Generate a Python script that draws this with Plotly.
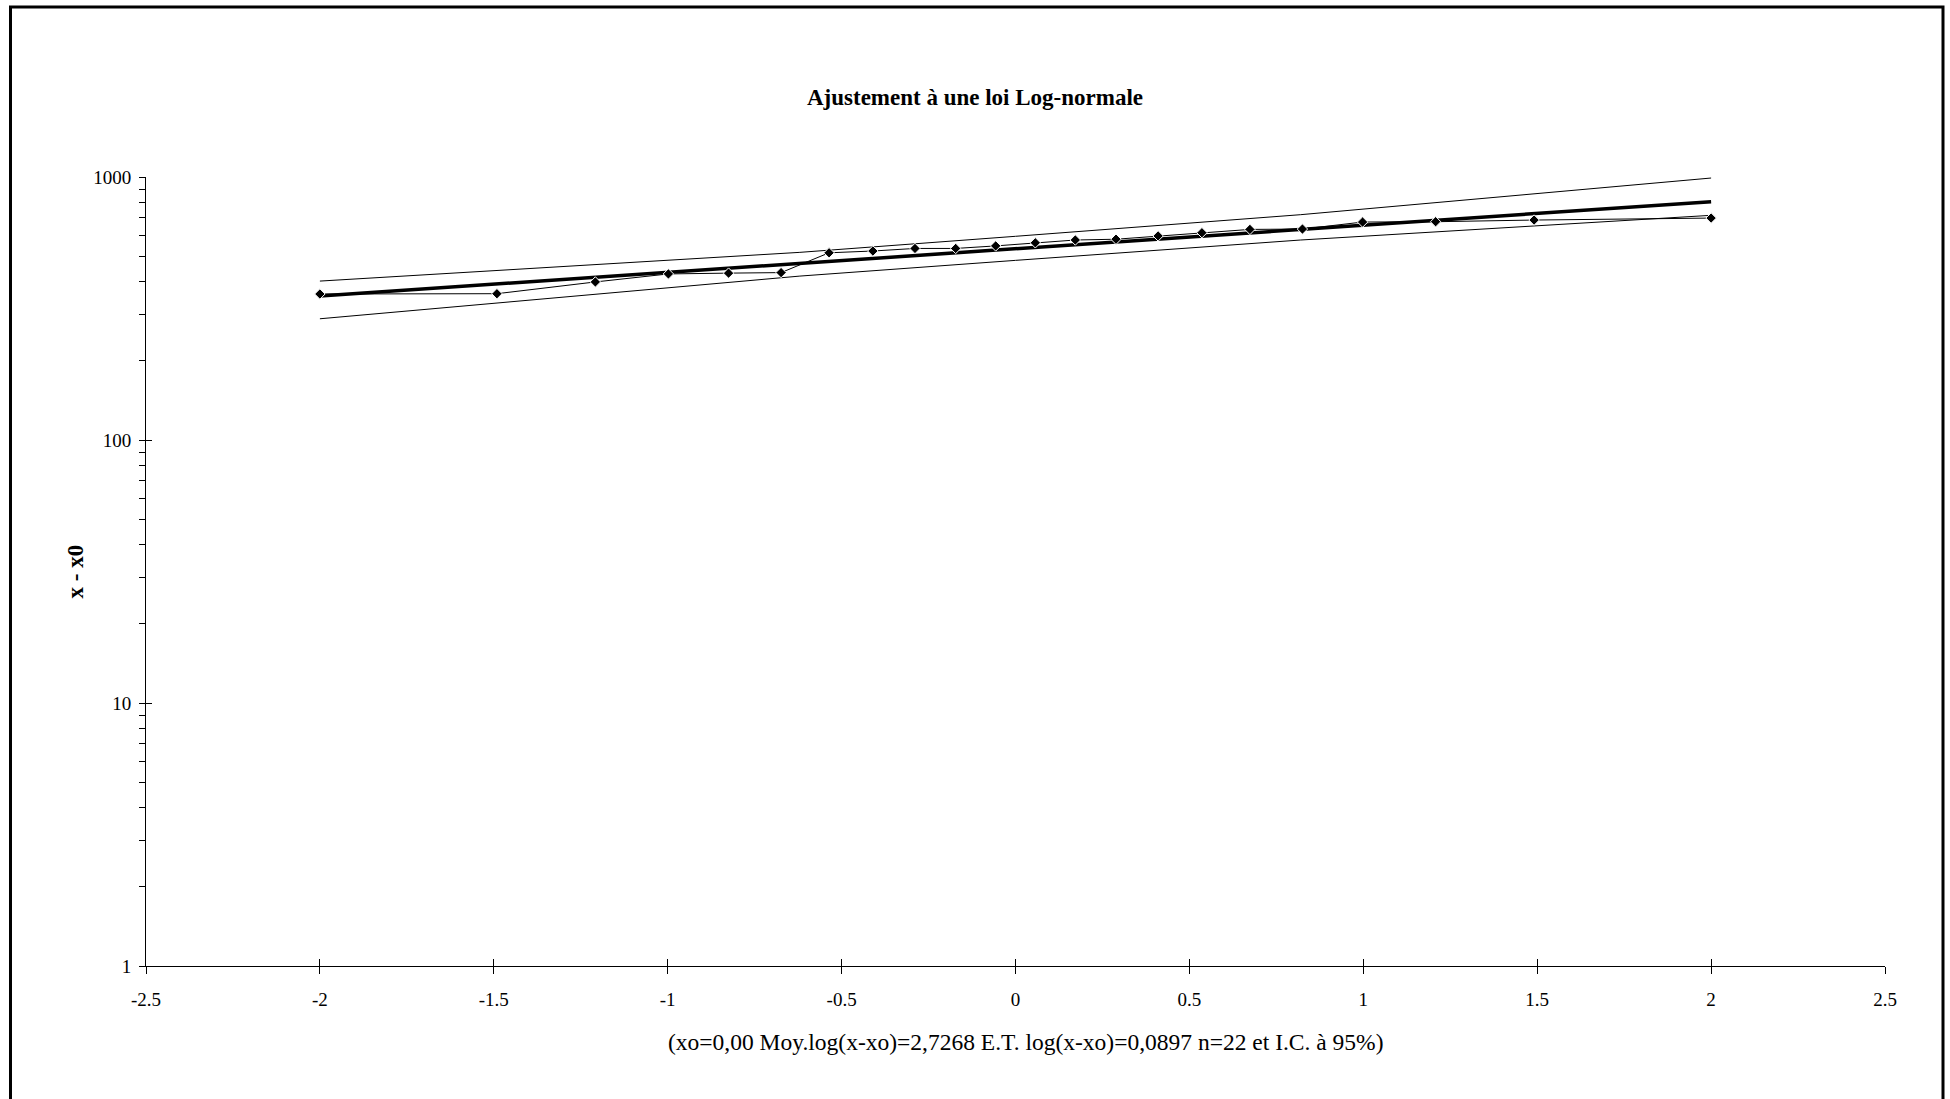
import plotly.graph_objects as go

# Normal quantiles (plotting positions) and observed values x - x0
z_data = [-2.000, -1.491, -1.208, -0.998, -0.825, -0.674, -0.536, -0.410, -0.289, -0.172, -0.057,
          0.057, 0.172, 0.289, 0.410, 0.536, 0.674, 0.825, 0.998, 1.208, 1.491, 2.000]
x_minus_x0 = [359, 360, 399, 428, 431, 433, 515, 523, 535, 535, 547,
              562, 576, 580, 597, 614, 632, 634, 674, 676, 686, 698]

# Fitted log-normal line
fit_z = [-2.0, 2.0]
fit_y = [353, 806]

# 95% confidence band
band_z = [-2.0, -0.62, 0.0, 0.82, 2.0]
band_upper = [402, 517, 595, 719, 991]
band_lower = [289, 420, 482, 576, 715]

# Axis ticks
x_tickvals = [-2.5, -2, -1.5, -1, -0.5, 0, 0.5, 1, 1.5, 2, 2.5]
x_ticktext = ["-2.5", "-2", "-1.5", "-1", "-0.5", "0", "0.5", "1", "1.5", "2", "2.5"]
y_major = [1, 10, 100, 1000]
y_major_text = ["1", "10", "100", "1000"]
y_minor = [2, 3, 4, 5, 6, 7, 8, 9, 20, 30, 40, 50, 60, 70, 80, 90, 200, 300, 400, 500, 600, 700, 800, 900]

FONT = "Liberation Serif, Times New Roman, serif"

fig = go.Figure()

fig.add_trace(go.Scatter(x=band_z, y=band_upper, mode="lines",
                         line=dict(color="black", width=1), showlegend=False, hoverinfo="skip"))
fig.add_trace(go.Scatter(x=band_z, y=band_lower, mode="lines",
                         line=dict(color="black", width=1), showlegend=False, hoverinfo="skip"))
fig.add_trace(go.Scatter(x=fit_z, y=fit_y, mode="lines",
                         line=dict(color="black", width=3.5), showlegend=False))
fig.add_trace(go.Scatter(x=z_data, y=x_minus_x0, mode="lines+markers",
                         line=dict(color="black", width=1),
                         marker=dict(symbol="diamond", size=8, color="black",
                                     line=dict(color="white", width=1)),
                         showlegend=False))
# invisible trace for overlay axes (crossing ticks)
fig.add_trace(go.Scatter(x=[0], y=[10], xaxis="x2", yaxis="y2", mode="markers",
                         marker=dict(opacity=0), showlegend=False, hoverinfo="skip"))

y_all = sorted(y_major + y_minor)
y_all_text = [y_major_text[y_major.index(v)] if v in y_major else "" for v in y_all]

fig.update_layout(
    width=1950, height=1099,
    margin=dict(l=146, r=65, t=177, b=133),
    paper_bgcolor="white", plot_bgcolor="white",
    font=dict(family=FONT, color="black", size=19),
    title=dict(text="<b>Ajustement à une loi Log-normale</b>",
               x=0.5, xref="container", xanchor="center",
               y=1 - 97 / 1099, yref="container", yanchor="middle",
               font=dict(family=FONT, size=23, color="black")),
    xaxis=dict(range=[-2.5, 2.5], tickvals=x_tickvals, ticktext=x_ticktext,
               ticks="outside", ticklen=7, tickwidth=1, tickcolor="black",
               showline=True, linecolor="black", linewidth=1,
               showgrid=False, zeroline=False, ticklabelstandoff=9,
               tickfont=dict(family=FONT, size=19, color="black")),
    yaxis=dict(type="log", range=[0, 3], tickvals=y_all, ticktext=y_all_text,
               ticks="outside", ticklen=6, tickwidth=1, tickcolor="black",
               showline=True, linecolor="black", linewidth=1,
               showgrid=False, zeroline=False, ticklabelstandoff=4,
               tickfont=dict(family=FONT, size=19, color="black")),
    xaxis2=dict(range=[-2.5, 2.5], overlaying="x", side="bottom", tickvals=x_tickvals,
                ticks="inside", ticklen=7, tickwidth=1, tickcolor="black",
                showticklabels=False, showline=False, showgrid=False, zeroline=False),
    yaxis2=dict(type="log", range=[0, 3], overlaying="y", side="left", tickvals=y_major,
                ticks="inside", ticklen=6, tickwidth=1, tickcolor="black",
                showticklabels=False, showline=False, showgrid=False, zeroline=False),
    showlegend=False,
)

fig.add_annotation(text="(xo=0,00 Moy.log(x-xo)=2,7268 E.T. log(x-xo)=0,0897 n=22 et I.C. à 95%)",
                   xref="paper", yref="paper", x=(1025 - 146) / 1739, y=(966 - 1042) / 789,
                   xanchor="center", yanchor="middle", showarrow=False,
                   font=dict(family=FONT, size=23.5, color="black"))
fig.add_annotation(text="<b>x - x0</b>",
                   xref="paper", yref="paper", x=(75 - 146) / 1739, y=0.5,
                   xanchor="center", yanchor="middle", showarrow=False, textangle=-90,
                   font=dict(family=FONT, size=23, color="black"))

# outer frame
fig.add_shape(type="rect", xref="paper", yref="paper",
              x0=(10.5 - 146) / 1739, x1=(1943 - 146) / 1739,
              y0=(966 - 1120) / 789, y1=(966 - 7) / 789,
              line=dict(color="black", width=3), fillcolor="rgba(0,0,0,0)", layer="above")

fig.write_html("out.html",
               config={"displayModeBar": False},
               post_script="document.body.style.margin='0';document.body.style.overflow='hidden';")
